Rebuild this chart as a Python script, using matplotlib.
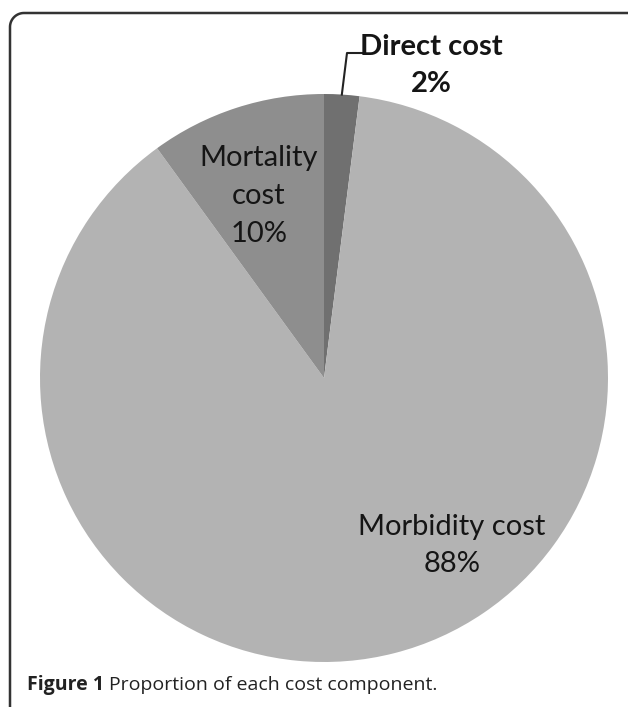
import matplotlib
matplotlib.use("Agg")
import matplotlib.pyplot as plt
import numpy as np

categories = ["Direct cost", "Morbidity cost", "Mortality cost"]
values = [2, 88, 10]
pct_labels = ["2%", "88%", "10%"]
colors = ["#707070", "#b3b3b3", "#8e8e8e"]

W, H = 628, 707
fig = plt.figure(figsize=(W / 100, H / 100), dpi=100)
ax = fig.add_axes([0, 0, 1, 1])

FONT = "Lato"
FS = 21
cx, cy, r = 324, H - 378, 284
wedges, _ = ax.pie(values, colors=colors, startangle=90, counterclock=False,
                   center=(cx, cy), radius=r, frame=True,
                   wedgeprops=dict(linewidth=0))
ax.set_xlim(0, W)
ax.set_ylim(0, H)
ax.set_aspect("equal")
ax.axis("off")

# frame: top line and left line with rounded corner
rad = 14
x0, y0 = 10, H - 13
t = np.linspace(np.pi / 2, np.pi, 20)
xs = np.concatenate([[W + 5], x0 + rad + rad * np.cos(t), [x0]])
ys = np.concatenate([[y0], y0 - rad + rad * np.sin(t), [-5]])
ax.plot(xs, ys, color="#333333", lw=1.8, solid_capstyle="butt", clip_on=False)


def label(x, baselines, lines, bold=False):
    for b, s in zip(baselines, lines):
        ax.text(x, H - b, s, ha="center", va="baseline", fontsize=FS,
                family=FONT, fontweight="bold" if bold else "normal",
                color="#151515")


label(259, [166, 204, 242], ["Mortality", "cost", pct_labels[2]])
label(452, [535, 572], [categories[1], pct_labels[1]])
label(431, [55, 92], [categories[0], pct_labels[0]], bold=True)

# leader line for Direct cost
w0 = wedges[0]
mid = np.deg2rad((w0.theta1 + w0.theta2) / 2)
ex, ey = cx + r * np.cos(mid), cy + r * np.sin(mid)
ax.plot([ex, 347, 362], [ey, H - 53, H - 53], color="#222222", lw=1.5)

# caption
t1 = fig.text(27 / W, 1 - 690 / H, "Figure 1", fontsize=14, family="Open Sans",
              fontweight="bold", color="#222222", va="baseline")
fig.canvas.draw()
bb = t1.get_window_extent()
fig.text((bb.x1 + 5) / W, 1 - 690 / H, "Proportion of each cost component.",
         fontsize=14, family="Open Sans", color="#222222", va="baseline")

fig.savefig("out.png", dpi=100)
